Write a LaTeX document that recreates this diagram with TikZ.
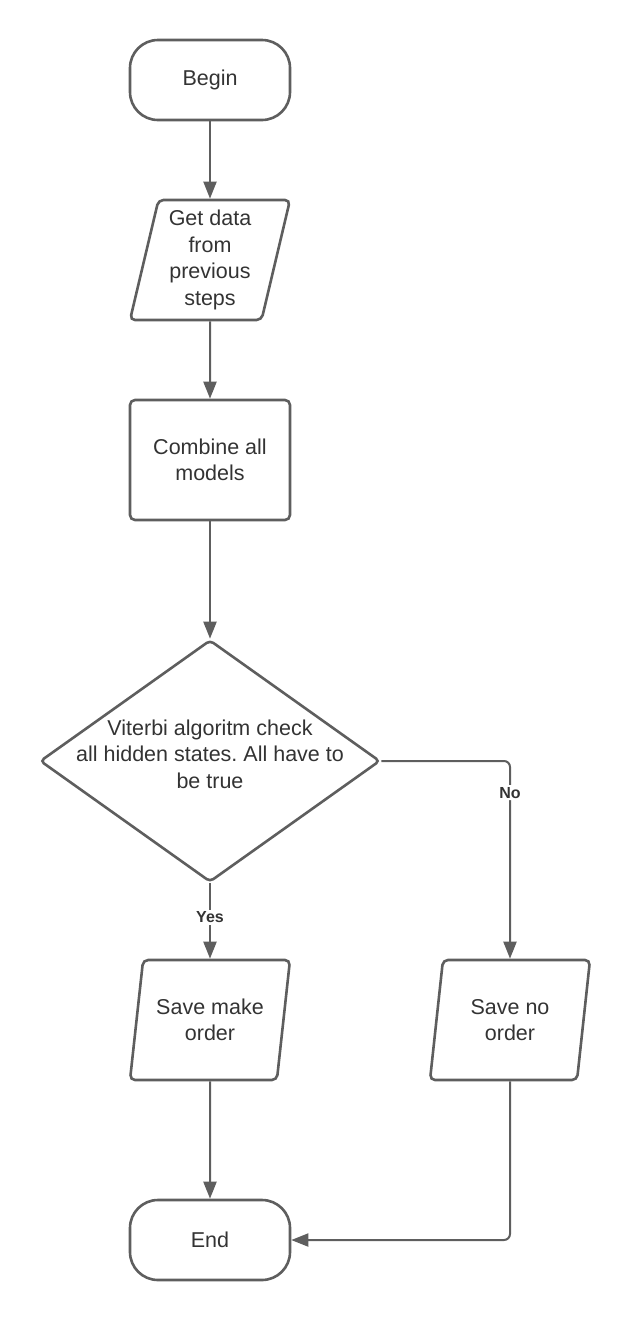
\documentclass[tikz,border=0pt]{standalone}
\usepackage{fontspec}
\setmainfont{Liberation Sans}
\frenchspacing
\usetikzlibrary{shapes.geometric,arrows.meta}
\definecolor{linegray}{HTML}{5E5E5E}
\definecolor{textgray}{HTML}{333333}

\begin{document}
\begin{tikzpicture}[x=1pt,y=-1pt,
every node/.style = {draw=linegray, line width=2.6pt, text=textgray, align=center, font=\fontsize{21.5}{26.5}\selectfont},
terminal/.style = {rectangle, rounded corners=28pt, minimum width=160pt, minimum height=80pt},
process/.style = {rectangle, rounded corners=5pt, minimum width=160pt, minimum height=120pt},
io/.style = {trapezium, trapezium left angle=75, trapezium right angle=105, trapezium stretches body, rounded corners=5pt, minimum width=160pt, minimum height=120pt},
decision/.style = {diamond, rounded corners=4pt, minimum width=340pt, minimum height=242pt},
answer/.style = {draw=none, fill=white, font=\fontsize{16}{18}\bfseries\selectfont, inner sep=2pt},
arr/.style = {draw=linegray, line width=2pt, -{Triangle[length=17pt,width=13pt]}}]
\useasboundingbox (0,0) rectangle (630,1320);
\node[terminal] (begin) at (210,80) {Begin};
\node[io] (getdata) at (210,260) {Get data\\from\\previous\\steps};
\node[process] (combine) at (210,460) {Combine all\\models};
\node[decision] (check) at (210,761) {\raisebox{2pt}[0pt][0pt]{\makebox[0pt]{\parbox{320pt}{\centering Viterbi algoritm check\\all hidden states. All have to\\be true}}}};
\node[io] (savemake) at (210,1020) {Save make\\order};
\node[io] (saveno) at (510,1020) {Save no\\order};
\node[terminal] (end) at (210,1240) {End};

\draw[arr] (begin) -- (getdata);
\draw[arr] (getdata) -- (combine);
\draw[arr] (combine) -- (check);
\draw[arr] (check) -- node[answer, pos=.45] {Yes} (savemake);
\draw[arr, rounded corners=6pt] (check.east) -| node[answer, pos=.58] {No} (saveno);
\draw[arr] (savemake) -- (end);
\draw[arr, rounded corners=6pt] (saveno) |- (end);
\end{tikzpicture}
\end{document}
